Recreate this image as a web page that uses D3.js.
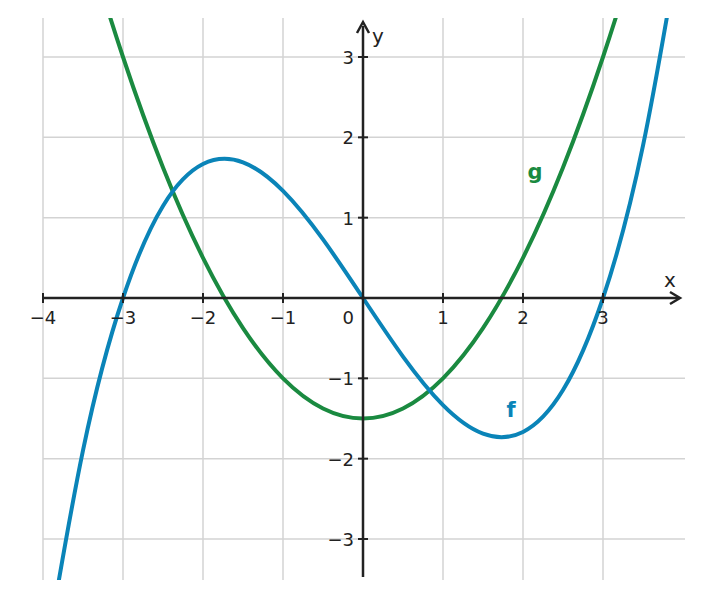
<!DOCTYPE html>
<html><head><meta charset="utf-8">
<script src="https://cdn.jsdelivr.net/npm/d3@7"></script>
<style>body{margin:0;background:#fff}</style></head>
<body><svg id="c" width="703" height="599"></svg>
<script>
// sample points
const xs = [-4,-3.5,-3,-2.5,-2,-1.5,-1,-0.5,0,0.5,1,1.5,2,2.5,3,3.5,4];
const fVals = [-4.667,-1.896,0,1.146,1.667,1.688,1.333,0.729,0,-0.729,-1.333,-1.688,-1.667,-1.146,0,1.896,4.667];
const gVals = [6.5,4.625,3,1.625,0.5,-0.375,-1,-1.375,-1.5,-1.375,-1,-0.375,0.5,1.625,3,4.625,6.5];
const xTicks = [-4,-3,-2,-1,1,2,3];
const yTicks = [-3,-2,-1,1,2,3];

const svg = d3.select('#c');
const x = d3.scaleLinear().domain([-4,0]).range([43,363]);
const y = d3.scaleLinear().domain([0,3]).range([298,57]);
const L=43, R=685, T=18, B=580;
const font = "'DejaVu Sans', sans-serif";
const dark = '#222';

svg.append('defs').append('clipPath').attr('id','clip')
  .append('rect').attr('x',L).attr('y',T).attr('width',R-L).attr('height',B-T);

svg.selectAll('.vg').data(xTicks).enter().append('line')
  .attr('x1',d=>x(d)).attr('x2',d=>x(d)).attr('y1',T).attr('y2',B)
  .attr('stroke','#d3d3d3').attr('stroke-width',1.5);
svg.selectAll('.hg').data(yTicks).enter().append('line')
  .attr('y1',d=>y(d)).attr('y2',d=>y(d)).attr('x1',L).attr('x2',R)
  .attr('stroke','#d3d3d3').attr('stroke-width',1.5);

const line = vals => d3.line().x((d,i)=>x(xs[i])).y(d=>y(d)).curve(d3.curveNatural)(vals);
const g = svg.append('g').attr('clip-path','url(#clip)');
g.append('path').attr('d',line(gVals)).attr('fill','none').attr('stroke','#1a8a40').attr('stroke-width',4);
g.append('path').attr('d',line(fVals)).attr('fill','none').attr('stroke','#0a84b8').attr('stroke-width',4);

// axes
svg.append('line').attr('x1',L).attr('x2',678).attr('y1',y(0)).attr('y2',y(0)).attr('stroke',dark).attr('stroke-width',2.5);
svg.append('line').attr('x1',x(0)).attr('x2',x(0)).attr('y1',B-3).attr('y2',T+8).attr('stroke',dark).attr('stroke-width',2.5);
svg.append('path').attr('d',`M670,${y(0)-6} L680,${y(0)} L670,${y(0)+6}`).attr('fill','none').attr('stroke',dark).attr('stroke-width',2.5);
svg.append('path').attr('d',`M${x(0)-6},33 L${x(0)},22 L${x(0)+6},33`).attr('fill','none').attr('stroke',dark).attr('stroke-width',2.5);

svg.selectAll('.xt').data(xTicks).enter().append('line')
  .attr('x1',d=>x(d)).attr('x2',d=>x(d)).attr('y1',y(0)-5).attr('y2',y(0)+5).attr('stroke',dark).attr('stroke-width',2);
svg.selectAll('.yt').data(yTicks).enter().append('line')
  .attr('y1',d=>y(d)).attr('y2',d=>y(d)).attr('x1',x(0)-5).attr('x2',x(0)+5).attr('stroke',dark).attr('stroke-width',2);

const fmt = d => d<0 ? '\u2212'+Math.abs(d) : ''+d;
svg.selectAll('.xl').data(xTicks).enter().append('text')
  .attr('x',d=>x(d)).attr('y',y(0)+26).attr('text-anchor','middle')
  .attr('font-family',font).attr('font-size',18).attr('fill',dark).text(fmt);
svg.selectAll('.yl').data(yTicks).enter().append('text')
  .attr('x',x(0)-9).attr('y',d=>y(d)+7).attr('text-anchor','end')
  .attr('font-family',font).attr('font-size',18).attr('fill',dark).text(fmt);
svg.append('text').attr('x',x(0)-9).attr('y',y(0)+26).attr('text-anchor','end')
  .attr('font-family',font).attr('font-size',18).attr('fill',dark).text('0');
svg.append('text').attr('x',670).attr('y',287).attr('text-anchor','middle')
  .attr('font-family',font).attr('font-size',20).attr('fill',dark).text('x');
svg.append('text').attr('x',378).attr('y',43).attr('text-anchor','middle')
  .attr('font-family',font).attr('font-size',20).attr('fill',dark).text('y');

svg.append('text').attr('x',x(1.85)).attr('y',y(-1.4)+7).attr('text-anchor','middle')
  .attr('font-family',font).attr('font-weight','bold').attr('font-size',21).attr('fill','#0a84b8').text('f');
svg.append('text').attr('x',x(2.15)).attr('y',y(1.57)+7).attr('text-anchor','middle')
  .attr('font-family',font).attr('font-weight','bold').attr('font-size',21).attr('fill','#1a8a40').text('g');
</script></body></html>
